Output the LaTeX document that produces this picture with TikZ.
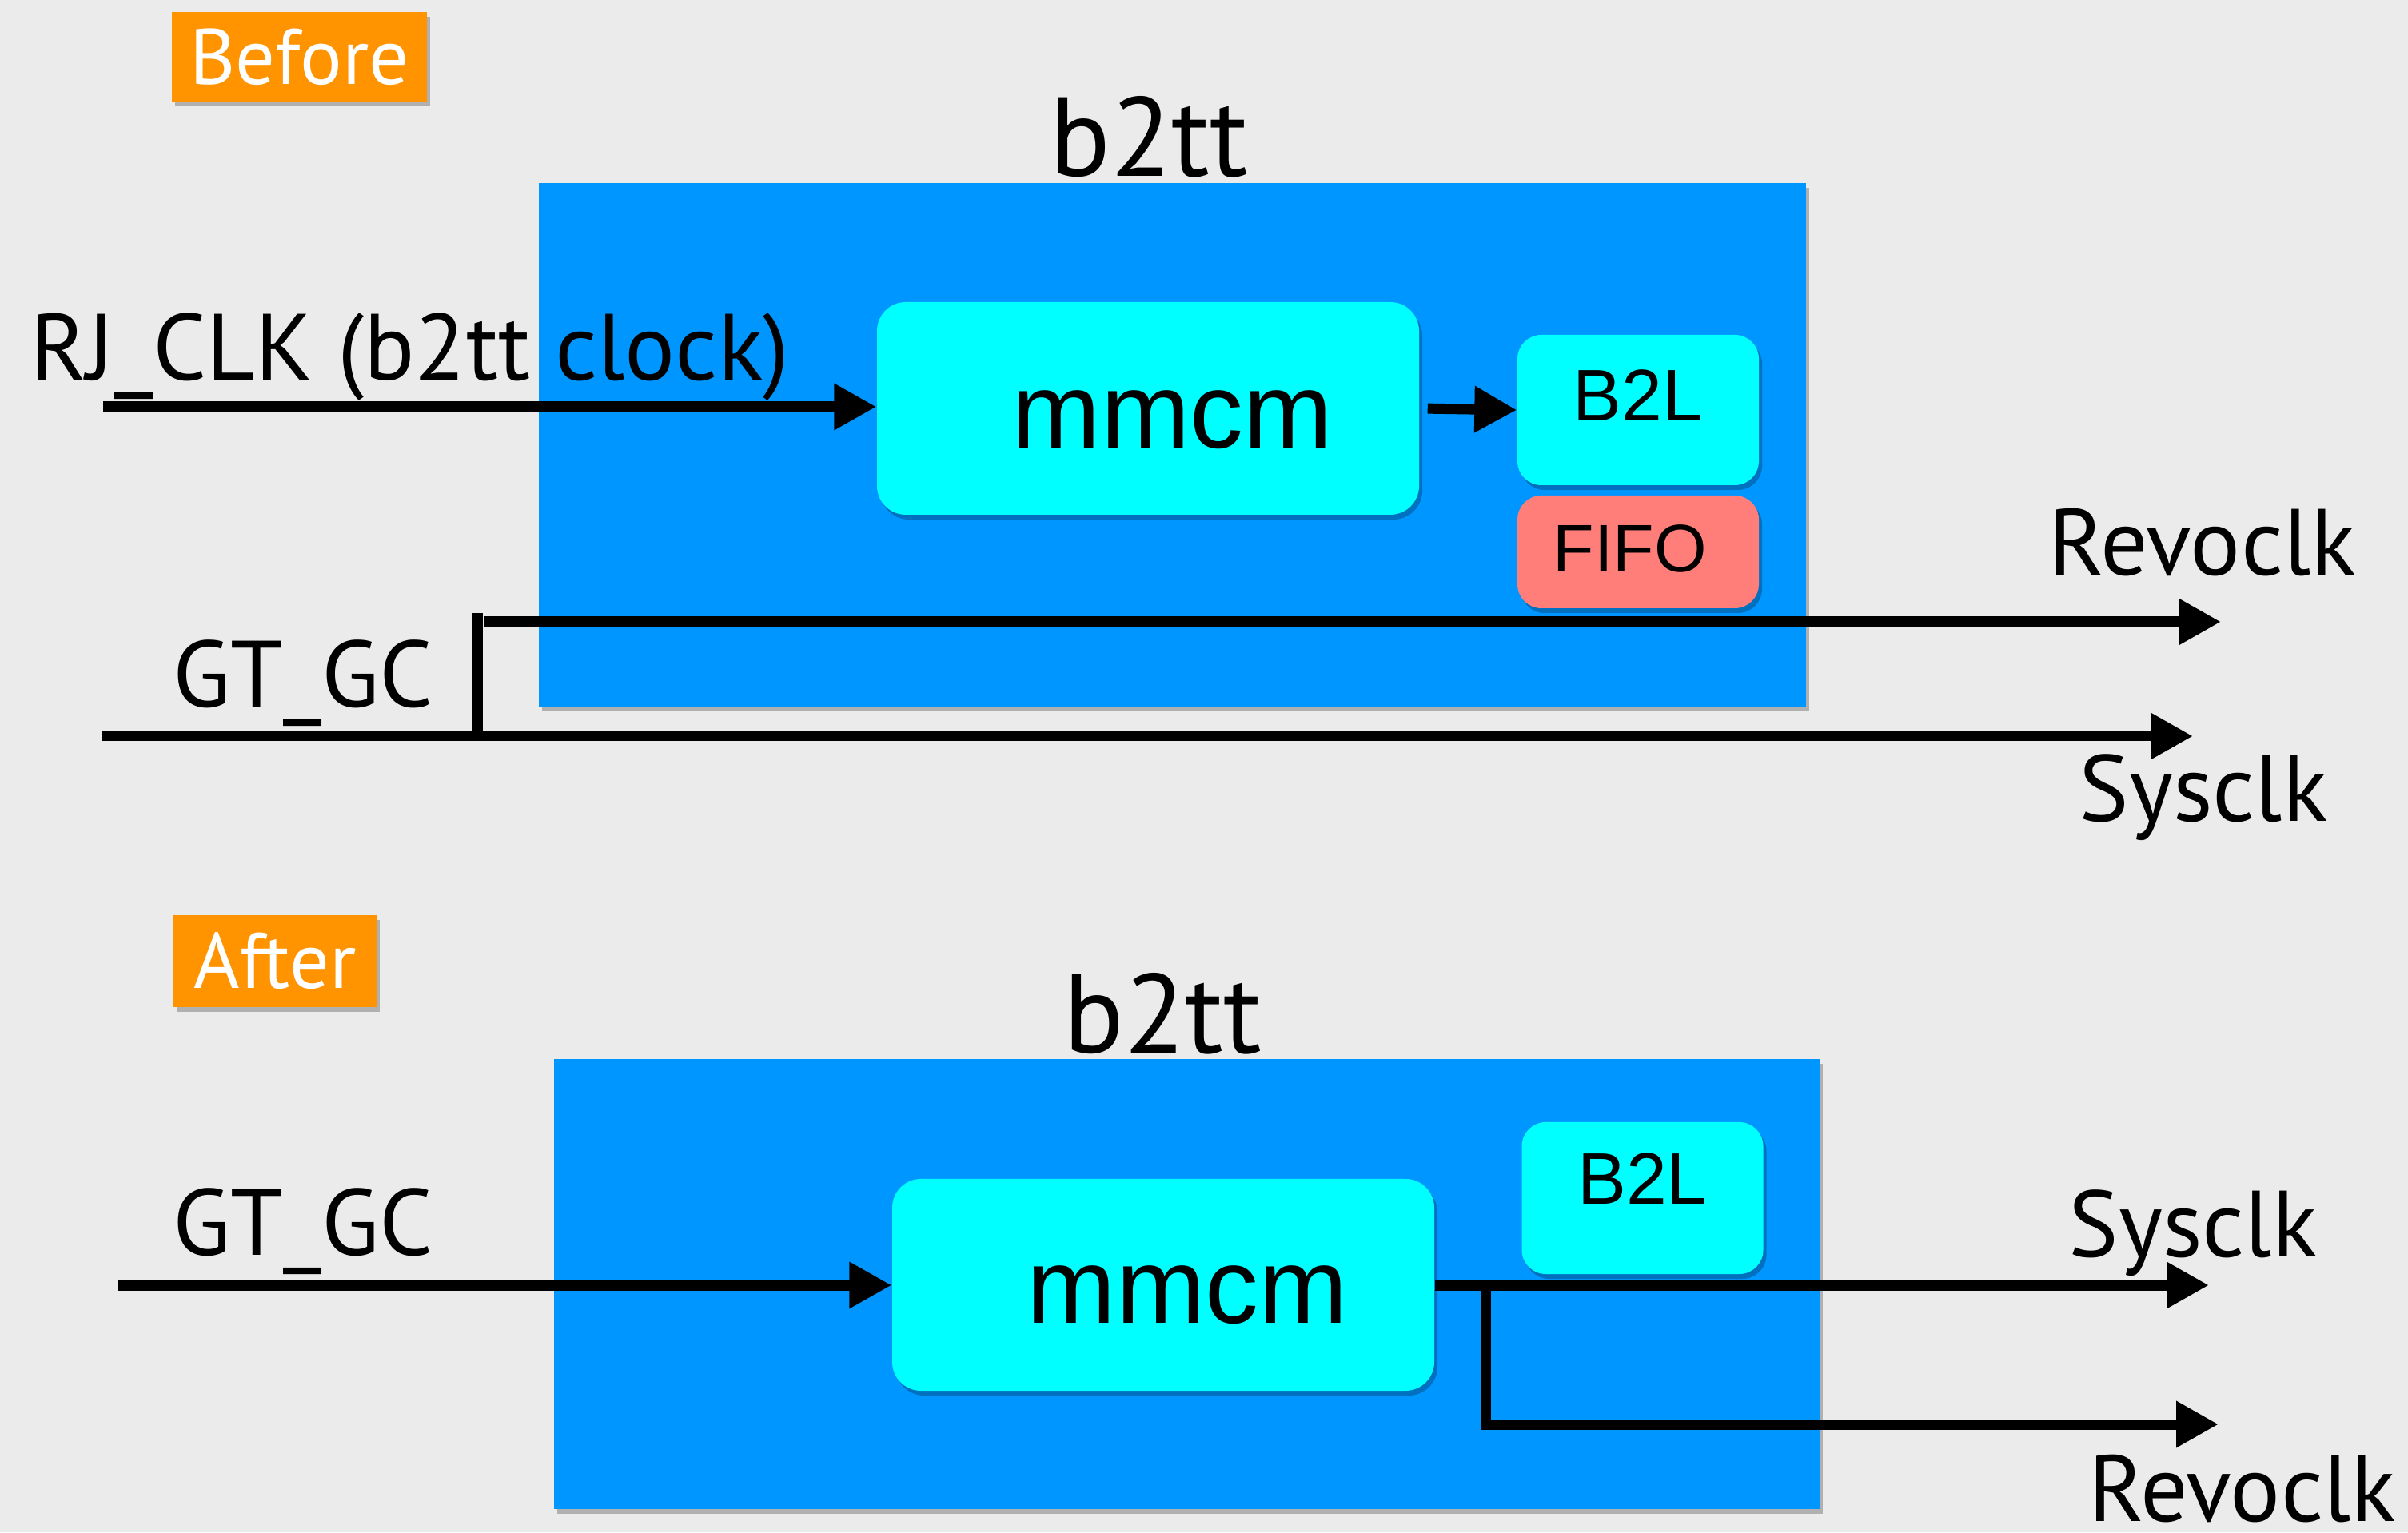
\documentclass[tikz,border=0pt]{standalone}
\usepackage{fontspec}
\setmainfont{PT Sans}
\newfontfamily\blockfont{Liberation Sans}
\usetikzlibrary{arrows.meta, positioning, shadows}

\definecolor{bgGray}{HTML}{EBEBEB}
\definecolor{boardBlue}{HTML}{0096FF}
\definecolor{blockCyan}{HTML}{00FFFF}
\definecolor{fifoRed}{HTML}{FF7E79}
\definecolor{tagOrange}{HTML}{FF9300}

\begin{document}
\begin{tikzpicture}[>={Triangle[length=0.53cm, width=0.55cm]},
      wire/.style={line width=0.13cm},
      shade/.style={drop shadow={shadow xshift=0.04cm, shadow yshift=-0.06cm, opacity=0.25, fill=black}},
      board/.style={shade, fill=boardBlue, inner sep=0pt},
      block/.style={shade, fill=blockCyan, rounded corners=0.36cm, inner sep=0pt,
                    text depth=0pt, font=\blockfont\fontsize{38}{44}\selectfont},
      small/.style={shade, rounded corners=0.3cm, inner sep=0pt, minimum width=3.02cm,
                    font=\blockfont\fontsize{26}{30}\selectfont},
      tag/.style={shade, fill=tagOrange, text=white, inner sep=0pt,
                  font=\fontsize{28}{32}\selectfont},
      sig/.style={inner sep=0pt, anchor=base west, font=\fontsize{33.5}{40}\selectfont},
      title/.style={inner sep=0pt, anchor=base, font=\fontsize{40}{46}\selectfont}]

    % background (fixes the page size)
    \fill[bgGray] (0,0) rectangle (30.12,19.17);

    % ---------------- Before ----------------
    \node[tag, minimum width=3.19cm, minimum height=1.12cm] (before) at (3.745,18.46) {Before};
    \node[board, minimum width=15.85cm, minimum height=6.55cm] (boardA) at (14.665,13.605) {};
    \node[title] (titleA) at (14.37,16.96) {b2tt};

    \node[block, minimum width=6.78cm, minimum height=2.66cm, text height=1.0cm] (mmcmA) at (14.36,14.06)
        {\hspace*{0.6cm}mmcm};
    \node[small, fill=blockCyan, minimum height=1.88cm, text depth=0.36cm] (b2lA) at (20.49,14.04) {B2L};
    \node[small, fill=fifoRed, minimum height=1.41cm, font=\blockfont\fontsize{24}{28}\selectfont]
        (fifoA) at (20.49,12.265) {\hspace*{-0.2cm}\raisebox{0.08cm}{FIFO}};

    % signal end points
    \coordinate (rjIn) at (1.29,14.08);
    \coordinate (gtInA) at (1.28,9.96);
    \coordinate (sysOutA) at (27.43,9.96);
    \coordinate (jA) at (5.97,9.96);
    \coordinate (jAtop) at (5.97,11.50);
    \coordinate (revoInA) at (6.05,11.39);
    \coordinate (revoOutA) at (27.78,11.39);

    \draw[wire,->] (rjIn) -- (rjIn -| mmcmA.west);
    \draw[wire,->, shorten <=0.1cm] (mmcmA.east) -- (b2lA.west);
    \draw[wire,->] (gtInA) -- (sysOutA);
    \draw[wire] (jA) -- (jAtop);
    \draw[wire,->] (revoInA) -- (revoOutA);

    % signal names
    \node[sig] (rjLbl) at (0.38,14.41) {RJ\_CLK (b2tt clock)};
    \node[sig] (gtLblA) at (2.16,10.32) {GT\_GC};
    \node[sig] (revoLblA) at (25.62,11.97) {Revoclk};
    \node[sig] (sysLblA) at (26.0,8.89) {Sysclk};

    % ---------------- After ----------------
    \node[tag, minimum width=2.54cm, minimum height=1.15cm] (after) at (3.44,7.145) {After};
    \node[board, minimum width=15.83cm, minimum height=5.63cm] (boardB) at (14.845,3.105) {};
    \node[title] (titleB) at (14.54,5.99) {b2tt};

    \node[block, minimum width=6.78cm, minimum height=2.65cm, text height=0.96cm] (mmcmB) at (14.55,3.095)
        {\hspace*{0.6cm}mmcm};
    \node[small, fill=blockCyan, minimum height=1.90cm, text depth=0.48cm] (b2lB) at (20.545,4.18) {B2L};

    \coordinate (gtInB) at (1.48,3.09);
    \coordinate (sysOutB) at (27.63,3.09);
    \coordinate (jB) at (18.58,3.09);
    \coordinate (jBbot) at (18.58,1.28);
    \coordinate (revoInB) at (18.52,1.35);
    \coordinate (revoOutB) at (27.75,1.35);

    \draw[wire,->] (gtInB) -- (gtInB -| mmcmB.west);
    \draw[wire,->] (mmcmB.east |- sysOutB) -- (sysOutB);
    \draw[wire] (jB) -- (jBbot);
    \draw[wire,->] (revoInB) -- (revoOutB);

    \node[sig] (gtLblB) at (2.16,3.46) {GT\_GC};
    \node[sig] (sysLblB) at (25.87,3.44) {Sysclk};
    \node[sig] (revoLblB) at (26.12,0.14) {Revoclk};

\end{tikzpicture}
\end{document}
